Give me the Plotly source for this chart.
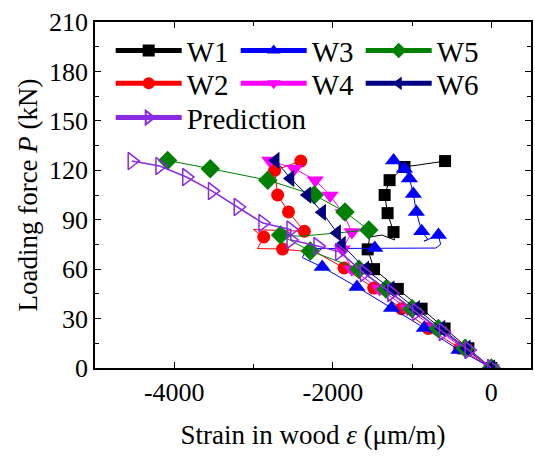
import plotly.graph_objects as go

# ---- data (strain in µm/m, load in kN, 1 = measured point drawn with a marker) ----
w1_strain = [0, -290, -590, -880, -1180, -1480, -1560, -1534, -1380, -1221, -1234, -1309, -1346, -1284, -1096, -584]
w1_load   = [0, 12, 24, 36, 48, 60, 72, 79.5, 80.7, 77.7, 82.5, 94, 105, 114, 122, 125.6]
w1_mark   = [1, 1, 1, 1, 1, 1, 1, 0, 0, 0, 1, 1, 1, 1, 1, 1]

w2_strain = [0, -400, -796, -1134, -1484, -1859, -2200, -2634, -2950, -2871, -3000, -2359, -2559, -2696, -2734, -2404]
w2_load   = [0, 12, 24, 36, 48.5, 60.7, 70, 72.2, 72.5, 79.5, 84, 83, 94.7, 105, 120, 125.6]
w2_mark   = [1, 1, 1, 1, 1, 1, 0, 1, 0, 1, 0, 1, 1, 1, 1, 1]

w3_strain = [0, -409, -846, -1259, -1696, -2134, -2384, -2330, -1471, -700, -640, -667, -850, -800, -879, -946, -984, -1034, -1096, -1234]
w3_load   = [0, 11, 24.3, 36.4, 49.2, 61.3, 67, 72.5, 72.8, 72.8, 75, 80.7, 77, 78, 83, 94.7, 105.6, 115, 121, 126]
w3_mark   = [1, 1, 1, 1, 1, 1, 0, 0, 1, 0, 0, 1, 0, 0, 1, 1, 1, 1, 1, 1]

w4_strain = [0, -350, -700, -1060, -1410, -1760, -1880, -1759, -1870, -2034, -2221, -2484, -2796]
w4_load   = [0, 12, 24, 36, 48, 60, 72, 82.5, 94, 104.7, 114, 121, 126]
w4_mark   = [1] * 13

w5_strain = [0, -330, -670, -1000, -1330, -1670, -2284, -2659, -2400, -1546, -1846, -2234, -2821, -3546, -4084]
w5_load   = [0, 12, 24, 36, 48, 60, 71, 80.7, 80, 83.7, 94.7, 105, 114, 121, 126]
w5_mark   = [1, 1, 1, 1, 1, 1, 1, 1, 0, 1, 1, 1, 1, 1, 1]

w6_strain = [0, -310, -630, -950, -1270, -1590, -1884, -1946, -2134, -2321, -2534, -2721]
w6_load   = [0, 12, 24, 36, 48, 60, 75, 82, 94.5, 105, 115, 126]
w6_mark   = [1] * 12

pred_strain = [0, -284, -609, -946, -1259, -1604, -1916, -2191, -2530, -2530, -2884, -3196, -3521, -3846, -4184, -4534]
pred_load   = [0, 10.9, 21.8, 34, 45.5, 57.6, 70.5, 74, 77.7, 84, 88, 97.7, 107.4, 115.9, 122.6, 125.6]

x_ticks = [-4000, -2000, 0]
y_ticks = [0, 30, 60, 90, 120, 150, 180, 210]

FONT = "Liberation Serif"

series = [
    ("W1", w1_strain, w1_load, w1_mark, "black", "square", 12, "legend"),
    ("W2", w2_strain, w2_load, w2_mark, "red", "circle", 13, "legend2"),
    ("W3", w3_strain, w3_load, w3_mark, "blue", "triangle-up", 15, "legend"),
    ("W4", w4_strain, w4_load, w4_mark, "magenta", "triangle-down", 15, "legend2"),
    ("W5", w5_strain, w5_load, w5_mark, "green", "diamond", 15, "legend"),
    ("W6", w6_strain, w6_load, w6_mark, "navy", "triangle-left", 15, "legend2"),
]

fig = go.Figure()
for name, xs, ys, mk, col, sym, sz, lg in series:
    fig.add_trace(go.Scatter(
        x=xs, y=ys, name=name, mode="lines+markers", legend=lg,
        line=dict(color=col, width=1),
        marker=dict(symbol=sym, color=col, opacity=1, size=[sz * m for m in mk], line=dict(width=0)),
    ))

fig.add_trace(go.Scatter(
    x=pred_strain, y=pred_load, name="Prediction", mode="lines+markers", legend="legend3",
    line=dict(color="#8a2be2", width=1.5),
    marker=dict(symbol="triangle-right-open", color="#8a2be2", opacity=1, size=15, line=dict(width=1.5)),
))

axis_common = dict(
    showline=True, linecolor="black", linewidth=1.5, mirror="allticks",
    ticks="inside", ticklen=6, tickwidth=1.2, tickcolor="black",
    showgrid=False, zeroline=False,
    tickfont=dict(family=FONT, size=26, color="black"),
)

fig.update_xaxes(
    range=[-5000, 500], tickvals=x_ticks, ticktext=[str(v) for v in x_ticks],
    minor=dict(ticks="inside", ticklen=4, tickcolor="black", tickwidth=1.2, dtick=1000, tick0=0, showgrid=False),
    title=dict(text="Strain in wood <i>ε</i> (μm/m)", font=dict(family=FONT, size=27, color="black"), standoff=19),
    **axis_common,
)
fig.update_yaxes(
    range=[0, 210], tickvals=y_ticks,
    minor=dict(ticks="inside", ticklen=4, tickcolor="black", tickwidth=1.2, dtick=15, tick0=0, showgrid=False),
    title=dict(text="Loading force <i>P</i> (kN)", font=dict(family=FONT, size=27, color="black"), standoff=4),
    **axis_common,
)

leg_common = dict(
    orientation="h", xanchor="left", yanchor="top", x=0.036,
    font=dict(family=FONT, size=29, color="black"),
    bgcolor="rgba(0,0,0,0)", borderwidth=0,
    itemwidth=66, itemsizing="constant",
)
row_common = dict(entrywidth=44, entrywidthmode="pixels", **leg_common)

fig.update_layout(
    width=535, height=457,
    margin=dict(l=95, r=2, t=22, b=89),
    paper_bgcolor="white", plot_bgcolor="white",
    font=dict(family=FONT, size=26, color="black"),
    legend=dict(y=0.991, **row_common),
    legend2=dict(y=0.896, **row_common),
    legend3=dict(y=0.797, **leg_common),
)

fig.write_html("out.html")
